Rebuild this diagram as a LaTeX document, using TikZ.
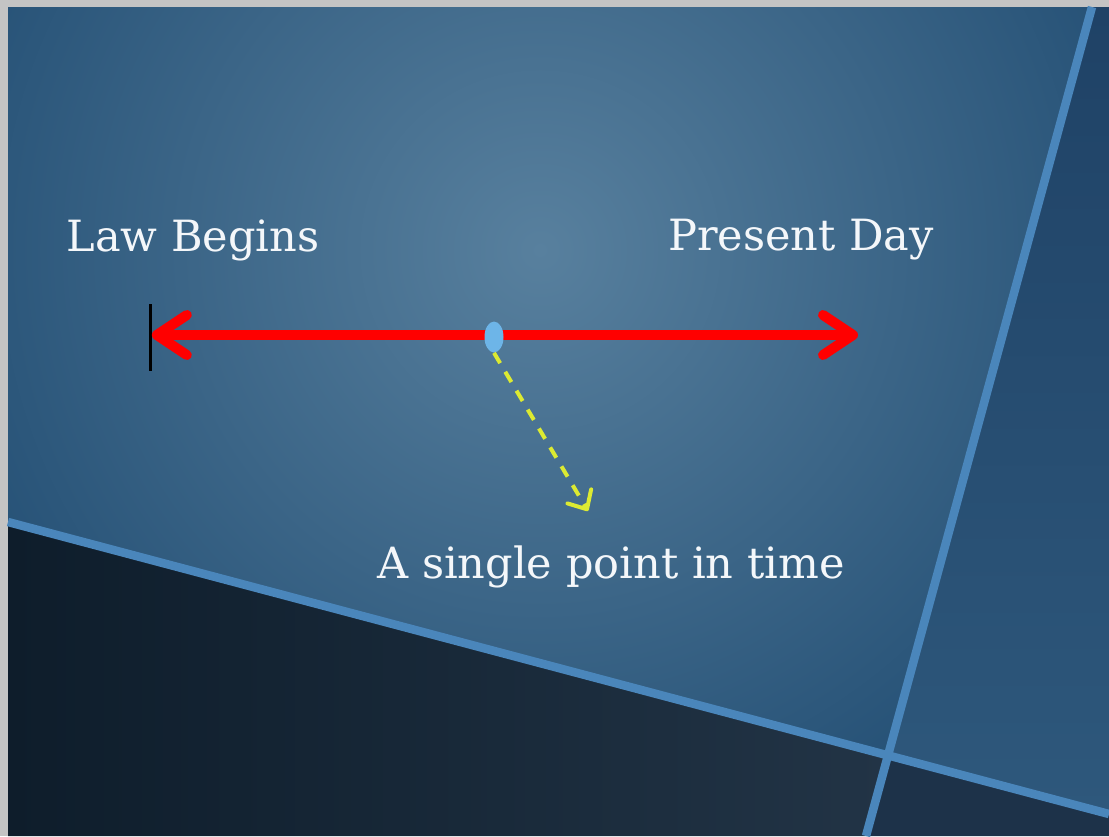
\documentclass[tikz,border=0pt]{standalone}
\usepackage{fontspec}
\setmainfont{DejaVu Serif}
\usetikzlibrary{arrows.meta, shapes.geometric, positioning}

\definecolor{framegray}{HTML}{C4C4C4}
\definecolor{panelmid}{HTML}{58809E}
\definecolor{paneledge}{HTML}{1E4A70}
\definecolor{rightdark}{HTML}{1F4266}
\definecolor{rightlight}{HTML}{2E587C}
\definecolor{bottomleft}{HTML}{0E1D2B}
\definecolor{bottomright}{HTML}{223446}
\definecolor{cornerdark}{HTML}{1D3249}
\definecolor{seamblue}{HTML}{4A86BB}
\definecolor{pointblue}{HTML}{6DB5E8}
\definecolor{dashyellow}{HTML}{DCEA32}
\definecolor{labelwhite}{HTML}{F4F7FA}

\begin{document}
\begin{tikzpicture}[
    x=0.02cm, y=-0.02cm,
    % Node styles
    label/.style={
        text=labelwhite,
        font=\fontsize{24.5}{29}\selectfont,
        inner sep=0pt
    },
    tickmark/.style={
        rectangle,
        fill=black,
        inner sep=0pt,
        minimum width=0.06cm,
        minimum height=1.34cm
    },
    instant/.style={
        ellipse,
        fill=pointblue,
        inner sep=0pt,
        minimum width=0.38cm,
        minimum height=0.62cm
    },
    timeline/.style={
        {Straight Barb[length=6mm,width=8mm,round]}-{Straight Barb[length=6mm,width=8mm,round]},
        line width=0.2cm,
        red
    },
    pointer/.style={
        -{Straight Barb[length=3mm,width=5.5mm,round]},
        line width=0.08cm,
        dashyellow,
        dash pattern=on 0.24cm off 0.2cm
    },
    seam/.style={
        line width=0.17cm,
        seamblue
    }
]

% --- Background ---
\useasboundingbox (0,0) rectangle (1109,836);
\fill[framegray] (0,0) rectangle (1109,836);

% upper left panel
\begin{scope}
    \clip (8,7) -- (1092,7) -- (888,755) -- (8,522) -- cycle;
    \shade[inner color=panelmid, outer color=paneledge] (540,250) circle[radius=720];
\end{scope}

% right panel
\shade[top color=rightdark, bottom color=rightlight]
    (1092,7) -- (1109,7) -- (1109,814) -- (888,755) -- cycle;

% lower left panel
\shade[left color=bottomleft, right color=bottomright]
    (8,522) -- (888,755) -- (866,836) -- (8,836) -- cycle;

% lower right corner
\fill[cornerdark] (888,755) -- (1109,814) -- (1109,836) -- (866,836) -- cycle;

% seams
\draw[seam] (8,522) -- (1109,814);
\draw[seam] (1092,7) -- (866,836);

% --- Nodes ---
\node[label] (begins) at (193,240) {Law Begins};
\node[label] (present) at (801,240) {Present Day};
\node[label] (single) at (611,567) {A single point in time};

\node[tickmark] (tick) at (150,337) {};
\coordinate (today) at (858,335);
\coordinate (aim) at (588,511);

% --- Arrows ---
\draw[timeline] (tick.east |- today) -- (today);
\node[instant] (point) at (494,337) {};
\draw[pointer] (point.south) -- (aim);

\end{tikzpicture}
\end{document}
